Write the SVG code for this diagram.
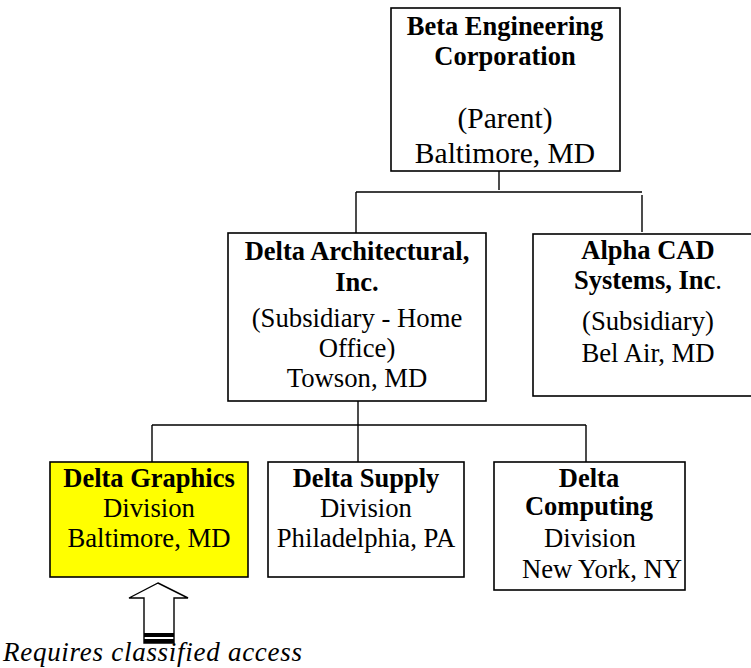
<svg xmlns="http://www.w3.org/2000/svg" width="751" height="668" viewBox="0 0 751 668">
<style>
.box{fill:#fff;stroke:#000;stroke-width:1.6}
.yel{fill:#ffff00;stroke:#000;stroke-width:1.6}
.ln{stroke:#000;stroke-width:1.4;fill:none}
text{font-family:"Liberation Serif","Times New Roman",serif;fill:#000;text-anchor:middle}
.b{font-weight:bold;font-size:26.5px}
.r{font-size:26.7px}
.rl{font-size:29.5px}
.it{font-style:italic;font-size:27px;text-anchor:start}
</style>
<rect width="751" height="668" fill="#fff"/>
<g id="connectors">
<path class="ln" d="M499,171V190M356,192H642M356,192V233M642,195V232"/>
<path class="ln" d="M358,401V462M152,425H586M152,425V462M586,425V462"/>
</g>
<g id="beta">
<rect class="box" x="391" y="8" width="229" height="163"/>
<text class="b" x="505" y="35">Beta Engineering</text>
<text class="b" x="505" y="65">Corporation</text>
<text class="rl" x="505" y="128">(Parent)</text>
<text class="rl" x="505" y="163">Baltimore, MD</text>
</g>
<g id="delta-arch">
<rect class="box" x="228" y="233" width="258" height="168"/>
<text class="b" x="357" y="260">Delta Architectural,</text>
<text class="b" x="357" y="291">Inc.</text>
<text class="r" x="357" y="327">(Subsidiary - Home</text>
<text class="r" x="357" y="357">Office)</text>
<text class="r" x="357" y="387">Towson, MD</text>
</g>
<g id="alpha">
<rect class="box" x="533" y="234" width="230" height="162"/>
<text class="b" x="648" y="259">Alpha CAD</text>
<text x="648" y="289"><tspan class="b">Systems, Inc</tspan><tspan class="r">.</tspan></text>
<text class="r" x="648" y="330">(Subsidiary)</text>
<text class="r" x="648" y="362">Bel Air, MD</text>
</g>
<g id="delta-graphics">
<rect class="yel" x="50" y="462" width="198" height="115"/>
<text class="b" x="149" y="487">Delta Graphics</text>
<text class="r" x="149" y="517">Division</text>
<text class="r" x="149" y="547">Baltimore, MD</text>
</g>
<g id="delta-supply">
<rect class="box" x="268" y="462" width="196" height="115"/>
<text class="b" x="366" y="487">Delta Supply</text>
<text class="r" x="366" y="517">Division</text>
<text class="r" x="366" y="547">Philadelphia, PA</text>
</g>
<g id="delta-computing">
<rect class="box" x="494" y="462" width="191" height="128"/>
<text class="b" x="589" y="487">Delta</text>
<text class="b" x="589" y="515">Computing</text>
<text class="r" x="590" y="547">Division</text>
<text class="r" x="602" y="578">New York, NY</text>
</g>
<g id="classified-note">
<polygon points="158,583 188,598 174,598 174,643 144,643 144,598 129,598" fill="#fff" stroke="#000" stroke-width="1.4"/>
<rect x="144" y="633" width="30" height="4" fill="#000"/>
<rect x="144" y="639" width="30" height="4" fill="#000"/>
<text class="it" x="3" y="661" textLength="299" lengthAdjust="spacing">Requires classified access</text>
</g>
</svg>
